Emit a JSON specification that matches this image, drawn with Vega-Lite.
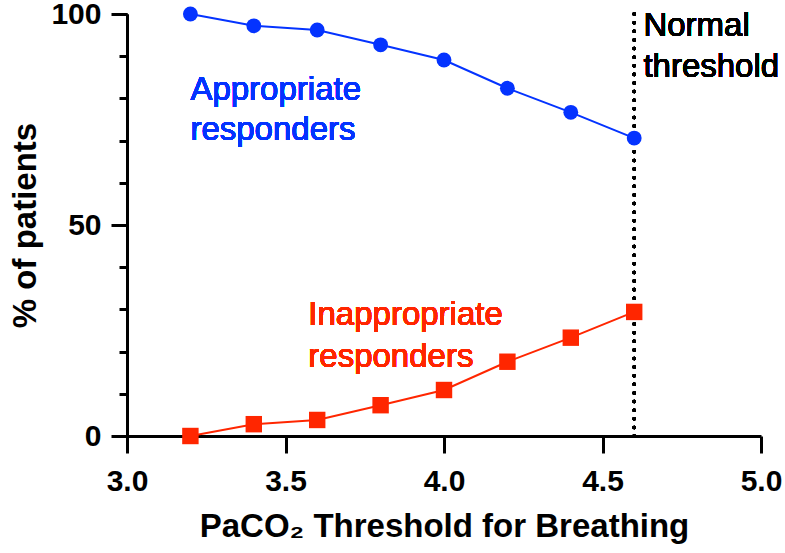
{
  "$schema": "https://vega.github.io/schema/vega-lite/v6.json",
  "width": 634,
  "height": 422,
  "autosize": {"type": "none"},
  "padding": {"left": 127, "top": 14, "right": 24, "bottom": 117},
  "background": "white",
  "config": {
    "view": {"stroke": null},
    "font": "Liberation Sans",
    "axis": {
      "grid": false,
      "domainColor": "black",
      "domainWidth": 3,
      "tickColor": "black",
      "tickWidth": 3,
      "labelFont": "Liberation Sans",
      "labelFontSize": 30,
      "labelFontWeight": "bold",
      "labelColor": "black",
      "titleFont": "Liberation Sans",
      "titleFontSize": 33,
      "titleFontWeight": "bold",
      "titleColor": "black",
      "labelFlush": false,
      "labelOverlap": false
    }
  },
  "data": {
    "values": [
      {"threshold": 3.2, "pct": 100, "group": "Appropriate"},
      {"threshold": 3.4, "pct": 97.2, "group": "Appropriate"},
      {"threshold": 3.6, "pct": 96.2, "group": "Appropriate"},
      {"threshold": 3.8, "pct": 92.7, "group": "Appropriate"},
      {"threshold": 4.0, "pct": 89.1, "group": "Appropriate"},
      {"threshold": 4.2, "pct": 82.4, "group": "Appropriate"},
      {"threshold": 4.4, "pct": 76.7, "group": "Appropriate"},
      {"threshold": 4.6, "pct": 70.6, "group": "Appropriate"},
      {"threshold": 3.2, "pct": 0, "group": "Inappropriate"},
      {"threshold": 3.4, "pct": 2.8, "group": "Inappropriate"},
      {"threshold": 3.6, "pct": 3.8, "group": "Inappropriate"},
      {"threshold": 3.8, "pct": 7.3, "group": "Inappropriate"},
      {"threshold": 4.0, "pct": 10.9, "group": "Inappropriate"},
      {"threshold": 4.2, "pct": 17.6, "group": "Inappropriate"},
      {"threshold": 4.4, "pct": 23.3, "group": "Inappropriate"},
      {"threshold": 4.6, "pct": 29.4, "group": "Inappropriate"}
    ]
  },
  "resolve": {"axis": {"y": "independent"}},
  "layer": [
    {
      "mark": {"type": "rule", "color": "black", "strokeWidth": 3.5, "strokeDash": [0.01, 8.6], "strokeCap": "round"},
      "encoding": {
        "x": {"datum": 4.6, "type": "quantitative"},
        "y": {"datum": 0, "type": "quantitative", "axis": null},
        "y2": {"datum": 100}
      }
    },
    {
      "mark": {"type": "line", "strokeWidth": 2},
      "encoding": {
        "x": {
          "field": "threshold", "type": "quantitative",
          "scale": {"domain": [3, 5], "nice": false, "zero": false},
          "axis": {
            "values": [3, 3.5, 4, 4.5, 5],
            "format": ".1f",
            "tickSize": 17,
            "labelPadding": 13,
            "title": "PaCO₂ Threshold for Breathing",
            "titlePadding": 14
          }
        },
        "y": {
          "field": "pct", "type": "quantitative",
          "scale": {"domain": [0, 100], "nice": false},
          "axis": {
            "orient": "left",
            "values": [0, 10, 20, 30, 40, 50, 60, 70, 80, 90, 100],
            "tickSize": 8,
            "labels": false,
            "title": null
          }
        },
        "color": {
          "field": "group", "type": "nominal",
          "scale": {"domain": ["Appropriate", "Inappropriate"], "range": ["#0433ff", "#ff2600"]},
          "legend": null
        }
      }
    },
    {
      "transform": [{"filter": "datum.group === 'Appropriate'"}],
      "mark": {"type": "point", "shape": "circle", "filled": true, "opacity": 1, "size": 220, "color": "#0433ff"},
      "encoding": {
        "x": {"field": "threshold", "type": "quantitative"},
        "y": {
          "field": "pct", "type": "quantitative",
          "axis": {
            "orient": "left",
            "values": [0, 50, 100],
            "tickSize": 16,
            "labelPadding": 10,
            "title": "% of patients",
            "titlePadding": 8
          }
        }
      }
    },
    {
      "transform": [{"filter": "datum.group === 'Inappropriate'"}],
      "mark": {"type": "point", "shape": "square", "filled": true, "opacity": 1, "size": 270, "color": "#ff2600"},
      "encoding": {
        "x": {"field": "threshold", "type": "quantitative"},
        "y": {"field": "pct", "type": "quantitative", "axis": null}
      }
    },
    {
      "mark": {"type": "text", "align": "left", "baseline": "alphabetic", "fontSize": 33, "lineHeight": 41, "color": "black", "font": "Liberation Sans", "text": ["Normal", "threshold"]},
      "encoding": {
        "x": {"datum": 4.629, "type": "quantitative"},
        "y": {"datum": 94.9, "type": "quantitative", "axis": null}
      }
    },
    {
      "mark": {"type": "text", "align": "left", "baseline": "alphabetic", "fontSize": 33, "lineHeight": 40, "color": "#0433ff", "font": "Liberation Sans", "text": ["Appropriate", "responders"]},
      "encoding": {
        "x": {"datum": 3.2, "type": "quantitative"},
        "y": {"datum": 79.6, "type": "quantitative", "axis": null}
      }
    },
    {
      "mark": {"type": "text", "align": "left", "baseline": "alphabetic", "fontSize": 33, "lineHeight": 42, "color": "#ff2600", "font": "Liberation Sans", "text": ["Inappropriate", "responders"]},
      "encoding": {
        "x": {"datum": 3.572, "type": "quantitative"},
        "y": {"datum": 26.4, "type": "quantitative", "axis": null}
      }
    }
  ]
}
